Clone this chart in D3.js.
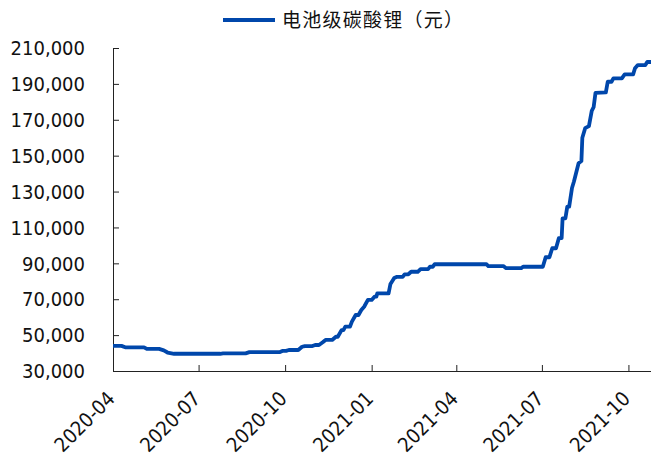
<!DOCTYPE html>
<html><head><meta charset="utf-8">
<script src="https://cdn.jsdelivr.net/npm/d3@7"></script>
<style>
html,body{margin:0;padding:0;background:#fff;}
svg{display:block;}
.ytick{font-family:"DejaVu Sans Condensed","DejaVu Sans",sans-serif;font-stretch:condensed;font-size:20px;fill:#111;}
.xtick{font-family:"DejaVu Sans Condensed","DejaVu Sans",sans-serif;font-stretch:condensed;font-size:20px;fill:#111;}
.legend{font-family:"Noto Sans CJK SC",sans-serif;font-size:19px;fill:#111;text-spacing-trim:space-all;}
</style>
</head><body>
<svg id="c" width="651" height="459"></svg>
<script>
const seriesName = "电池级碳酸锂（元）";
const dates = ["2020-04-01","2020-04-10","2020-04-14","2020-05-04","2020-05-07","2020-05-20","2020-05-25","2020-05-29","2020-06-05","2020-07-24","2020-07-27","2020-08-20","2020-08-24","2020-09-25","2020-09-28","2020-10-02","2020-10-05","2020-10-15","2020-10-19","2020-10-22","2020-10-30","2020-11-02","2020-11-06","2020-11-10","2020-11-13","2020-11-20","2020-11-24","2020-11-26","2020-11-30","2020-12-02","2020-12-04","2020-12-09","2020-12-11","2020-12-15","2020-12-18","2020-12-21","2020-12-24","2020-12-28","2021-01-01","2021-01-04","2021-01-06","2021-01-07","2021-01-19","2021-01-21","2021-01-25","2021-01-28","2021-02-03","2021-02-05","2021-02-09","2021-02-12","2021-02-19","2021-02-22","2021-03-02","2021-03-04","2021-03-07","2021-03-09","2021-05-03","2021-05-05","2021-05-21","2021-05-24","2021-06-09","2021-06-11","2021-07-02","2021-07-05","2021-07-09","2021-07-12","2021-07-16","2021-07-19","2021-07-22","2021-07-23","2021-07-26","2021-07-28","2021-07-30","2021-08-02","2021-08-04","2021-08-09","2021-08-12","2021-08-13","2021-08-16","2021-08-20","2021-08-23","2021-08-25","2021-08-27","2021-09-07","2021-09-09","2021-09-13","2021-09-15","2021-09-24","2021-09-27","2021-10-06","2021-10-08","2021-10-11","2021-10-19","2021-10-21","2021-10-25"];
const values = [44000,44000,43200,43200,42300,42300,41500,40300,39600,39600,39800,39800,40500,40500,41200,41200,41700,41700,43500,43900,43900,44500,44500,46000,47300,47300,49100,49100,52800,52800,54700,54700,57500,61200,61200,64000,65800,69600,69600,71400,71400,73300,73300,78500,81800,82500,82500,83900,83900,85300,85300,86800,86800,88100,88100,89500,89500,88500,88500,87300,87300,88100,88100,93400,93400,98400,98400,104000,104000,115100,115100,121600,121600,132000,135500,145800,147000,160000,165300,166500,175000,177000,185000,185300,191200,191200,193100,193100,195300,195300,198700,200500,200500,202200,202200];
const yTicks = [30000,50000,70000,90000,110000,130000,150000,170000,190000,210000];
const xTicks = ["2020-04","2020-07","2020-10","2021-01","2021-04","2021-07","2021-10"];
const xDomain = ["2020-04-01","2021-10-25"];

const parse = d3.timeParse("%Y-%m-%d");
const parseM = d3.timeParse("%Y-%m");
const data = dates.map((d,i)=>({date:parse(d), value:values[i]}));

const svg = d3.select("#c");
const L = 113, R = 651, T = 48, B = 371;
const x = d3.scaleTime().domain(xDomain.map(parse)).range([L, R]);
const y = d3.scaleLinear().domain([30000, 210000]).range([B, T]);

const axisColor = "#222";
// Y axis
const yAxis = svg.append("g").attr("transform", `translate(${L},0)`)
  .call(d3.axisRight(y).tickValues(yTicks).tickSize(6).tickFormat(""));
yAxis.select(".domain").attr("stroke", axisColor).attr("d", `M0.5,${T}V${B}`);
yAxis.selectAll(".tick line").attr("stroke", axisColor);
svg.append("g").selectAll("text").data(yTicks).join("text")
  .attr("class","ytick")
  .attr("x", 85).attr("y", d=>y(d)).attr("dy","0.36em")
  .attr("text-anchor","end")
  .text(d=>d3.format(",")(d));

// X axis
const xAxis = svg.append("g").attr("transform", `translate(0,${B})`)
  .call(d3.axisTop(x).tickValues(xTicks.map(parseM)).tickSize(6).tickFormat(""));
xAxis.select(".domain").attr("stroke", axisColor).attr("d", `M${L},0.5H${R}`);
xAxis.selectAll(".tick line").attr("stroke", axisColor);
svg.append("g").selectAll("text").data(xTicks).join("text")
  .attr("class","xtick")
  .attr("text-anchor","end")
  .attr("transform", d=>`translate(${x(parseM(d))+3},${B+29}) rotate(-45)`)
  .text(d=>d);

// Line
const line = d3.line().x(d=>x(d.date)).y(d=>y(d.value));
svg.append("path").datum(data)
  .attr("fill","none").attr("stroke","#0047AB").attr("stroke-width",3.8)
  .attr("stroke-linejoin","round")
  .attr("d", line);

// Legend
svg.append("line").attr("x1",223).attr("x2",275).attr("y1",20).attr("y2",20)
  .attr("stroke","#0047AB").attr("stroke-width",4);
svg.append("text").attr("class","legend").attr("x",282).attr("y",27)
  .attr("textLength",181).attr("lengthAdjust","spacing").text(seriesName);
</script>
</body></html>
